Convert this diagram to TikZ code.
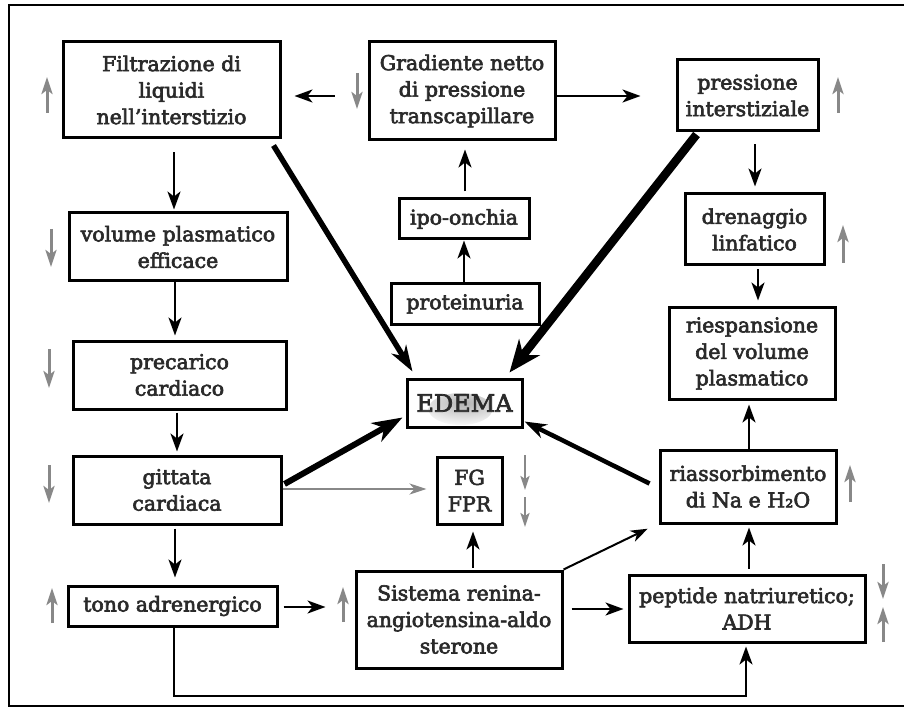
\documentclass[tikz,border=0pt]{standalone}
\usepackage{fontspec}
\setmainfont{DejaVu Serif}
\newfontfamily\boxfont[FakeBold=3]{DejaVu Serif}
\usetikzlibrary{arrows.meta,calc}
\definecolor{txt}{HTML}{2A2A2A}
\definecolor{ind}{HTML}{888888}
\begin{document}
\begin{tikzpicture}[x=1pt,y=-1pt,
  box/.style={draw=black, line width=3pt, fill=white, inner sep=0pt, align=center,
    text=txt, font=\boxfont\fontsize{20.5}{26.5}\selectfont},
  arr/.style={line width=2.5pt, -{Stealth[length=18pt,width=13pt,inset=5pt]}},
  thinarr/.style={line width=2pt, -{Stealth[length=17pt,width=12pt,inset=5pt]}},
  grayarr/.style={draw=ind, line width=3pt, -{Stealth[length=17pt,width=11pt,inset=4pt]}},
  smallgray/.style={draw=ind, line width=2.4pt, -{Stealth[length=14pt,width=9pt,inset=3pt]}},
]
\useasboundingbox (0,0) rectangle (904,708);
% outer frame (open at the right)
\draw[line width=2.4pt] (904,5) -- (9,5) -- (9,706) -- (904,706);

% boxes
\node[box, minimum width=217pt, minimum height=96pt] (filt) at (171.5,90) {Filtrazione di\\liquidi\\nell’interstizio};
\node[box, minimum width=186pt, minimum height=98pt] (grad) at (462,91) {Gradiente netto\\di pressione\\transcapillare};
\node[box, minimum width=141pt, minimum height=71pt] (pint) at (747.5,95.5) {pressione\\interstiziale};
\node[box, minimum width=218pt, minimum height=68pt] (vol) at (178,247) {volume plasmatico\\efficace};
\node[box, minimum width=130pt, minimum height=40pt] (ipo) at (464,219) {ipo-onchia};
\node[box, minimum width=148pt, minimum height=40pt] (prot) at (465,304) {proteinuria};
\node[box, minimum width=139pt, minimum height=71pt] (dren) at (754.5,229.5) {drenaggio\\linfatico};
\node[box, minimum width=166pt, minimum height=91pt] (riesp) at (752,353.5) {riespansione\\del volume\\plasmatico};
\node[box, minimum width=213pt, minimum height=68pt] (prec) at (179.5,375) {precarico\\cardiaco};
\node[box, minimum width=115pt, minimum height=48pt, font=\boxfont\fontsize{24}{28}\selectfont,
  path picture={\shade[inner color=black!30, outer color=white]
    ([xshift=-4pt,yshift=-6pt]path picture bounding box.center) ellipse (32pt and 16pt);}] (edema) at (464.5,403) {EDEMA};
\node[box, minimum width=208pt, minimum height=68pt] (gitt) at (177,490) {gittata\\cardiaca};
\node[box, minimum width=65pt, minimum height=67pt] (fg) at (469.5,490.5) {FG\\FPR};
\node[box, minimum width=176pt, minimum height=73pt] (riass) at (748,486.5) {riassorbimento\\di Na e H₂O};
\node[box, minimum width=209pt, minimum height=40pt] (tono) at (172.5,606) {tono adrenergico};
\node[box, minimum width=206pt, minimum height=97pt] (sist) at (459,619.5) {Sistema renina-\\angiotensina-aldo\\sterone};
\node[box, minimum width=236pt, minimum height=67pt] (pept) at (747,608.5) {peptide natriuretico;\\ADH};

% black connectors
\draw[arr, shorten <=33pt, shorten >=13pt] (grad.west |- 0,96) -- (filt.east |- 0,96);
\draw[arr, shorten >=35pt] (grad.east |- 0,96) -- (pint.west |- 0,96);
\draw[arr, shorten <=6pt, shorten >=8pt] (ipo.north -| 465,0) -- (grad.south -| 465,0);
\draw[arr] (prot.north -| 464,0) -- (ipo.south -| 464,0);
\draw[arr, shorten <=13pt, shorten >=2pt] (filt.south -| 174,0) -- (vol.north -| 174,0);
\draw[arr, shorten >=4pt] (vol.south -| 175,0) -- (prec.north -| 175,0);
\draw[arr, shorten <=2pt, shorten >=3pt] (prec.south -| 177,0) -- (gitt.north -| 177,0);
\draw[arr, shorten <=3pt, shorten >=7pt] (gitt.south -| 175,0) -- (tono.north -| 175,0);
\draw[arr, shorten <=5pt, shorten >=29pt] (tono.east |- 0,607) -- (sist.west |- 0,607);
\draw[arr, shorten <=8pt, shorten >=4pt] (sist.east |- 0,609) -- (pept.west |- 0,609);
\coordinate (bend) at (746,696);
\draw[arr, shorten >=3pt] (tono.south -| 174,0) |- (bend) -- (pept.south -| bend);
\draw[arr, shorten <=2pt, shorten >=6pt] (sist.north -| 473,0) -- (fg.south -| 473,0);
\draw[thinarr, shorten >=12pt] (sist.north east) -- ($(riass.south west)+(0,-1)$);
\draw[arr, shorten <=5pt, shorten >=3pt] (pept.north -| 749,0) -- (riass.south -| 749,0);
\draw[arr, shorten >=4pt] (riass.north -| 749,0) -- (riesp.south -| 749,0);
\draw[arr, shorten <=12pt, shorten >=6pt] (pint.south -| 755,0) -- (dren.north -| 755,0);
\draw[arr, shorten <=3pt, shorten >=6pt] (dren.south -| 758,0) -- (riesp.north -| 758,0);

% heavy connectors to EDEMA
\draw[line width=5.5pt, -{Stealth[length=26pt,width=17pt,inset=8pt]}]
  ($(filt.south east)+(-8,6)$) -- ($(edema.north west)+(7,-6)$);
\draw[line width=8.5pt, -{Stealth[length=32pt,width=26pt,inset=10pt]}]
  ($(pint.south west)+(21,2)$) -- ($(edema.north east)+(-14,-5)$);
\draw[line width=6pt, -{Stealth[length=30pt,width=21pt,inset=9pt]}]
  ($(gitt.east)+(2,-6)$) -- ($(edema.south west)+(-3,-11)$);
\draw[line width=4.5pt, -{Stealth[length=22pt,width=15pt,inset=7pt]}]
  ($(riass.west)+(-9,-3)$) -- ($(edema.south east)+(1,-7)$);

% gray connector
\draw[draw=ind, line width=2.5pt, -{Stealth[length=17pt,width=11pt,inset=5pt]}, shorten >=9pt]
  (gitt.east |- 0,489) -- (fg.west |- 0,489);

% gray indicator arrows
\draw[grayarr] (47,113) -- (47,77);
\draw[grayarr] (357,73) -- (357,109);
\draw[grayarr] (838,113) -- (838,77);
\draw[grayarr] (843,263) -- (843,225);
\draw[grayarr] (51,229) -- (51,267);
\draw[grayarr] (49,349) -- (49,388);
\draw[grayarr] (49,465) -- (49,503);
\draw[grayarr] (52,623) -- (52,588);
\draw[grayarr] (343,622) -- (343,587);
\draw[smallgray] (525,455) -- (525,490);
\draw[smallgray] (525,497) -- (525,527);
\draw[grayarr] (850,502) -- (850,465);
\draw[grayarr] (883,564) -- (883,599);
\draw[grayarr] (883,642) -- (883,607);
\end{tikzpicture}
\end{document}
